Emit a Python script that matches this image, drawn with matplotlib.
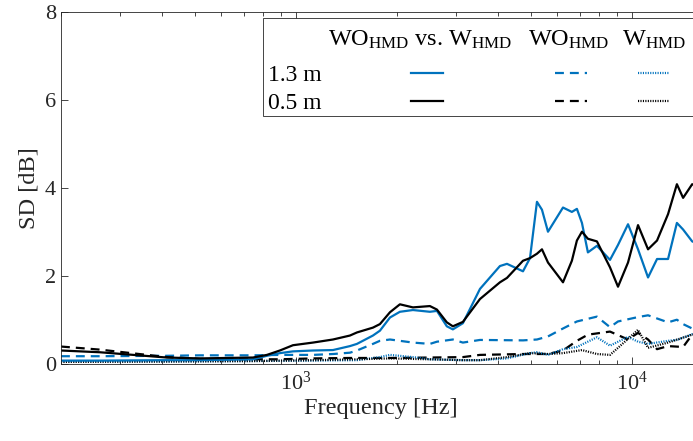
import matplotlib
matplotlib.use('Agg')
import matplotlib.pyplot as plt
from matplotlib.patches import Rectangle
from matplotlib.lines import Line2D
from matplotlib.ticker import NullFormatter

plt.rcParams['font.family'] = 'Liberation Serif'
plt.rcParams['mathtext.fontset'] = 'custom'
plt.rcParams['mathtext.rm'] = 'Liberation Serif'
plt.rcParams['mathtext.it'] = 'Liberation Serif:italic'

BLUE = '#0072BD'
GREY = '#262626'

# solid curves: WO_HMD vs. W_HMD
freq_solid = [200, 261, 413, 518, 745, 820, 896, 980, 1124, 1289, 1448, 1519, 1695, 1778,
              1905, 2039, 2229, 2504, 2628, 2812, 2931, 3139, 3529, 4046, 4246, 4738,
              4971, 5214, 5396, 5623, 6232, 6623, 6855, 7096, 7392, 7863, 8600, 9085,
              9730, 10420, 11160, 11870, 12800, 13600, 14190, 15100, 16000]
sd_13_vs = [0.07, 0.07, 0.08, 0.08, 0.10, 0.18, 0.24, 0.28, 0.30, 0.31, 0.40, 0.45, 0.64, 0.75,
            1.05, 1.18, 1.22, 1.18, 1.20, 0.85, 0.78, 0.92, 1.70, 2.22, 2.27, 2.10,
            2.40, 3.68, 3.50, 3.00, 3.55, 3.45, 3.52, 3.20, 2.53, 2.68, 2.36, 2.70,
            3.17, 2.60, 1.96, 2.38, 2.38, 3.20, 3.05, 2.78, 2.70]
sd_05_vs = [0.30, 0.26, 0.14, 0.12, 0.14, 0.20, 0.30, 0.42, 0.48, 0.55, 0.64, 0.71, 0.82, 0.90,
            1.17, 1.35, 1.28, 1.31, 1.23, 0.94, 0.85, 0.95, 1.47, 1.85, 1.95, 2.34,
            2.40, 2.50, 2.60, 2.30, 1.85, 2.34, 2.80, 3.00, 2.84, 2.78, 2.19, 1.75,
            2.30, 3.15, 2.60, 2.80, 3.40, 4.08, 3.77, 4.08, 4.00]

# dashed curves: WO_HMD
freq_13_wo = [200, 261, 413, 518, 745, 896, 1124, 1289, 1448, 1519, 1695, 1778, 1905, 2229,
              2504, 2628, 2931, 3139, 3529, 4738, 5214, 5623, 6232, 6855, 7863, 8600,
              9085, 10420, 11160, 12800, 13600, 14190, 15100, 16000]
sd_13_wo = [0.17, 0.17, 0.18, 0.19, 0.19, 0.20, 0.20, 0.22, 0.25, 0.30, 0.45, 0.52, 0.55, 0.48,
            0.45, 0.50, 0.55, 0.48, 0.54, 0.53, 0.55, 0.62, 0.80, 0.96, 1.07, 0.83,
            0.96, 1.06, 1.10, 0.94, 1.00, 0.90, 0.80, 0.85]
freq_05_wo = [200, 261, 413, 518, 745, 896, 1124, 1448, 1905, 2504, 3139, 3529, 4738, 5623,
              6232, 6855, 7392, 8600, 9730, 10420, 11160, 11870, 12800, 14190, 15100, 16000]
sd_05_wo = [0.39, 0.32, 0.15, 0.11, 0.10, 0.10, 0.12, 0.13, 0.13, 0.14, 0.15, 0.20, 0.22, 0.22,
            0.30, 0.52, 0.66, 0.73, 0.55, 0.70, 0.55, 0.33, 0.40, 0.38, 0.66, 0.70]

# dotted curves: W_HMD
freq_13_w = [200, 413, 745, 1124, 1519, 1778, 1905, 2229, 2504, 3139, 3529, 4246, 4971, 5214,
             5623, 6232, 6855, 7863, 8600, 9730, 10420, 11160, 12800, 13600, 15100, 16000]
sd_13_w = [0.05, 0.05, 0.06, 0.07, 0.08, 0.15, 0.20, 0.15, 0.10, 0.08, 0.08, 0.12, 0.24, 0.26,
           0.20, 0.33, 0.38, 0.60, 0.41, 0.61, 0.50, 0.45, 0.52, 0.54, 0.67, 0.70]
freq_05_w = [200, 413, 745, 1124, 1519, 1905, 2504, 3139, 3529, 4246, 4971, 5623, 6232, 7096,
             7863, 8600, 9085, 10420, 11160, 12800, 15100, 16000]
sd_05_w = [0.04, 0.05, 0.06, 0.08, 0.10, 0.12, 0.10, 0.08, 0.08, 0.15, 0.24, 0.22, 0.24, 0.31,
           0.22, 0.20, 0.36, 0.77, 0.36, 0.48, 0.66, 0.68]

row_labels = ['1.3 m', '0.5 m']
col_labels = [r'WO$_{\mathrm{HMD}}$ vs. W$_{\mathrm{HMD}}$', r'WO$_{\mathrm{HMD}}$', r'W$_{\mathrm{HMD}}$']

lw = 1.6
dash = (0, (4, 2.7))
dot = (0, (0.5, 0.6))

fig = plt.figure(figsize=(6.93, 4.41), dpi=100)
ax = fig.add_axes([0.088, 0.1753, 0.923, 0.798])

ax.plot(freq_13_wo, sd_13_wo, color=BLUE, lw=lw, ls=dash)
ax.plot(freq_05_wo, sd_05_wo, color='k', lw=lw, ls=dash)
ax.plot(freq_13_w, sd_13_w, color=BLUE, lw=lw, ls=dot)
ax.plot(freq_05_w, sd_05_w, color='k', lw=lw, ls=dot)
ax.plot(freq_solid, sd_13_vs, color=BLUE, lw=lw)
ax.plot(freq_solid, sd_05_vs, color='k', lw=lw)

ax.set_xscale('log')
ax.set_xlim(200, 16000)
ax.set_ylim(0, 8)
ax.set_yticks([0, 2, 4, 6, 8])
ax.xaxis.set_minor_formatter(NullFormatter())
ax.tick_params(which='both', direction='in', top=True, right=True, colors=GREY, labelsize=16)
ax.tick_params(which='major', length=5, width=0.6)
ax.tick_params(which='minor', length=3, width=0.6)
ax.tick_params(axis='x', pad=6)
for s in ax.spines.values():
    s.set_color(GREY)
    s.set_linewidth(0.6)
ax.set_xlabel('Frequency [Hz]', fontsize=17.6, color=GREY, labelpad=2)
ax.set_ylabel('SD [dB]', fontsize=17.6, color=GREY, labelpad=4)

# table-style legend
ax.add_patch(Rectangle((0.316, 0.703), 0.70, 0.279, transform=ax.transAxes,
                       facecolor='white', edgecolor=GREY, lw=0.6, zorder=5, clip_on=False))
for x, t in zip([0.4175, 0.730, 0.877], col_labels):
    ax.text(x, 0.905, t, transform=ax.transAxes, fontsize=17.5, va='baseline', ha='left',
            color='k', zorder=6)
styles = ['-', dash, dot]
xs = [(0.547, 0.597), (0.772, 0.822), (0.902, 0.951)]
for lab, yb, yl, c in zip(row_labels, [0.802, 0.7244], [0.8267, 0.7472], [BLUE, 'k']):
    ax.text(0.3236, yb, lab, transform=ax.transAxes, fontsize=17, va='baseline', ha='left',
            color='k', zorder=6)
    for st, (x0, x1) in zip(styles, xs):
        ax.add_line(Line2D([x0, x1], [yl, yl], transform=ax.transAxes, color=c, lw=lw,
                           ls=st, zorder=6))

fig.savefig('out.png', dpi=100)
